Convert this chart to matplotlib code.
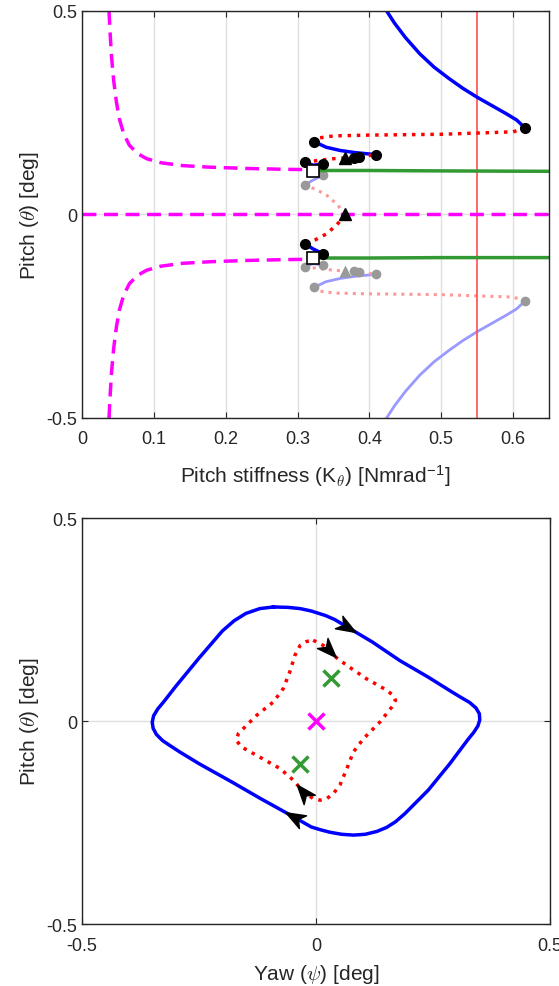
import numpy as np
import matplotlib.pyplot as plt
from matplotlib.markers import MarkerStyle
from matplotlib.path import Path
from matplotlib.transforms import Affine2D

plt.rcParams['font.family'] = ['Liberation Sans', 'DejaVu Sans']
plt.rcParams['mathtext.fontset'] = 'cm'
plt.rcParams['font.size'] = 13

# ---------------- top panel: pitch vs pitch stiffness ----------------
# magenta (unstable) equilibrium branch, upper half (lower half = mirror)
k_mag = [0.0376, 0.039, 0.041, 0.044, 0.048, 0.052, 0.058, 0.066, 0.077, 0.09, 0.11,
         0.14, 0.18, 0.23, 0.28, 0.321]
th_mag = [0.5, 0.45, 0.39, 0.33, 0.275, 0.235, 0.198, 0.17, 0.15, 0.137, 0.127,
          0.12, 0.116, 0.113, 0.111, 0.110]

# green (stable) equilibrium branches
k_green = [0.321, 0.40, 0.50, 0.65]
th_green_up = [0.108, 0.108, 0.107, 0.106]
th_green_lo = [-0.107, -0.107, -0.106, -0.106]

# squares (Hopf points)
k_sq = [0.321, 0.321]
th_sq = [0.108, -0.108]

# periodic orbit amplitude, upper side dark (lower side drawn light, mirrored)
k_blue1 = [0.424, 0.435, 0.45, 0.47, 0.49, 0.51, 0.53, 0.55, 0.57, 0.59, 0.605, 0.617]
th_blue1 = [0.5, 0.47, 0.435, 0.395, 0.362, 0.335, 0.31, 0.288, 0.268, 0.248, 0.232, 0.212]
k_red1 = [0.617, 0.60, 0.55, 0.50, 0.45, 0.40, 0.35, 0.33, 0.323]
th_red1 = [0.212, 0.203, 0.200, 0.197, 0.196, 0.195, 0.193, 0.188, 0.179]
k_blue2 = [0.323, 0.34, 0.36, 0.38, 0.409]
th_blue2 = [0.179, 0.165, 0.157, 0.152, 0.147]
k_red2 = [0.310, 0.33, 0.35, 0.367, 0.387, 0.409]
th_red2 = [0.128, 0.133, 0.137, 0.139, 0.142, 0.147]
k_blue3 = [0.310, 0.322, 0.336]
th_blue3 = [0.128, 0.121, 0.124]
k_dot = [0.617, 0.323, 0.409, 0.310, 0.336, 0.378, 0.386]
th_dot = [0.212, 0.179, 0.147, 0.128, 0.124, 0.139, 0.141]
k_tri = [0.366]
th_tri = [0.139]

# middle branch, lower side dark (upper side drawn light, mirrored)
k_red_m = [0.366, 0.355, 0.34, 0.325, 0.310]
th_red_m = [0.0, -0.025, -0.048, -0.062, -0.072]
k_blue_m = [0.310, 0.322, 0.336]
th_blue_m = [-0.072, -0.085, -0.097]
k_dot_m = [0.310, 0.336]
th_dot_m = [-0.072, -0.097]
k_tri_m = [0.366]
th_tri_m = [0.0]

k_crit = 0.55

top_xticks = [0, 0.1, 0.2, 0.3, 0.4, 0.5, 0.6]
top_xlabels = ['0', '0.1', '0.2', '0.3', '0.4', '0.5', '0.6']
yticks = [-0.5, 0, 0.5]
ylabels = ['-0.5', '0', '0.5']

# ---------------- bottom panel: phase portrait ----------------
psi_blue = [-0.091, -0.06, -0.034, -0.01, 0.020, 0.04, 0.066, 0.12, 0.179, 0.24, 0.29, 0.31,
            0.328, 0.342, 0.349, 0.350, 0.346, 0.337, 0.325, 0.286, 0.24, 0.19, 0.17, 0.151,
            0.13, 0.105, 0.08, 0.055, 0.03, 0.01, -0.01, -0.048, -0.12, -0.177, -0.25, -0.29,
            -0.31, -0.328, -0.341, -0.348, -0.35, -0.347, -0.338, -0.325, -0.30, -0.25, -0.20,
            -0.175, -0.15, -0.12, -0.091]
th_blue = [0.281, 0.280, 0.277, 0.271, 0.260, 0.25, 0.232, 0.195, 0.149, 0.108, 0.072, 0.058,
           0.046, 0.032, 0.018, 0.003, -0.012, -0.028, -0.045, -0.105, -0.17, -0.228, -0.248, -0.262,
           -0.272, -0.279, -0.281, -0.279, -0.274, -0.268, -0.261, -0.236, -0.19, -0.152, -0.105, -0.077,
           -0.062, -0.048, -0.033, -0.018, -0.003, 0.013, 0.03, 0.048, 0.085, 0.155, 0.222,
           0.247, 0.265, 0.277, 0.281]
psi_red = [-0.006, 0.016, 0.027, 0.037, 0.066, 0.108, 0.151, 0.165, 0.170, 0.165, 0.137, 0.101,
           0.080, 0.066, 0.051, 0.037, 0.023, 0.009, -0.006, -0.027, -0.048, -0.077, -0.120,
           -0.159, -0.170, -0.166, -0.127, -0.091, -0.070, -0.056, -0.045, -0.034, -0.020, -0.006]
th_red = [0.199, 0.186, 0.174, 0.162, 0.137, 0.104, 0.076, 0.063, 0.051, 0.039, -0.002, -0.044,
          -0.076, -0.117, -0.158, -0.179, -0.191, -0.195, -0.191, -0.175, -0.146, -0.117, -0.089,
          -0.064, -0.048, -0.031, 0.014, 0.047, 0.080, 0.121, 0.162, 0.186, 0.196, 0.199]
blue_arrows = [6, 31]   # index of loop point where an arrow sits
red_arrows = [2, 19]
psi_eq_green = [0.032, -0.034]
th_eq_green = [0.107, -0.105]
psi_eq_mag = [0.0]
th_eq_mag = [0.0]

fig = plt.figure(figsize=(5.59, 9.87), dpi=100)
ax1 = fig.add_axes([0.1467, 0.5755, 0.8354, 0.4124])
ax2 = fig.add_axes([0.1467, 0.0628, 0.8372, 0.4113])

LB = (0.6, 0.6, 1.0)
LR = (1.0, 0.6, 0.6)
GR = (0.6, 0.6, 0.6)
GREEN = (0.2, 0.6, 0.2)
DASH = (0, (4, 2.2))

neg = lambda a: [-v for v in a]

# light (mirrored) pieces first
ax1.plot(k_blue1, neg(th_blue1), color=LB, lw=2)
ax1.plot(k_red1, neg(th_red1), color=LR, lw=2.2, ls=':')
ax1.plot(k_blue2, neg(th_blue2), color=LB, lw=2)
ax1.plot(k_red2, neg(th_red2), color=LR, lw=2.2, ls=':')
ax1.plot(k_blue3, neg(th_blue3), color=LB, lw=2)
ax1.plot(k_red_m, neg(th_red_m), color=LR, lw=2.2, ls=':')
ax1.plot(k_blue_m, neg(th_blue_m), color=LB, lw=2)
ax1.plot(k_dot, neg(th_dot), 'o', color=GR, ms=7, mec='none')
ax1.plot(k_dot_m, neg(th_dot_m), 'o', color=GR, ms=7, mec='none')
ax1.plot(k_tri, neg(th_tri), '^', color=GR, ms=8, mec='none')

ax1.axvline(k_crit, color=(1, 0.3, 0.3), lw=1.2)

ax1.plot(k_mag, th_mag, color='magenta', lw=2.5, ls=DASH)
ax1.plot(k_mag, neg(th_mag), color='magenta', lw=2.5, ls=DASH)
ax1.axhline(0, color='magenta', lw=2.5, ls=DASH)
ax1.plot(k_green, th_green_up, color=GREEN, lw=2.5)
ax1.plot(k_green, th_green_lo, color=GREEN, lw=2.5)

# dark pieces
ax1.plot(k_blue1, th_blue1, color='blue', lw=2.5)
ax1.plot(k_red1, th_red1, color='red', lw=2.5, ls=':')
ax1.plot(k_blue2, th_blue2, color='blue', lw=2.5)
ax1.plot(k_red2, th_red2, color='red', lw=2.5, ls=':')
ax1.plot(k_blue3, th_blue3, color='blue', lw=2.5)
ax1.plot(k_red_m, th_red_m, color='red', lw=2.5, ls=':')
ax1.plot(k_blue_m, th_blue_m, color='blue', lw=2.5)
ax1.plot(k_dot, th_dot, 'o', color='k', ms=7)
ax1.plot(k_dot_m, th_dot_m, 'o', color='k', ms=7)
ax1.plot(k_tri, th_tri, '^', color='k', ms=8)
ax1.plot(k_tri_m, th_tri_m, '^', color='k', ms=8)
ax1.plot(k_sq, th_sq, 's', color='white', mec='k', mew=1.2, ms=8.5, zorder=5)

ax1.set_xlim(0, 0.65)
ax1.set_ylim(-0.5, 0.5)
ax1.set_xticks(top_xticks)
ax1.set_xticklabels(top_xlabels)
ax1.set_yticks(yticks)
ax1.set_yticklabels(ylabels)
ax1.set_xlabel(r'Pitch stiffness (K$_\theta$) [Nmrad$^{\mathregular{-1}}$]', fontsize=15, labelpad=11)
ax1.set_ylabel(r'Pitch ($\theta$) [deg]', fontsize=15)

# bottom panel
ax2.plot(psi_blue, th_blue, color='blue', lw=2.5)
ax2.plot(psi_red, th_red, color='red', lw=2.5, ls=':')
ax2.plot(psi_eq_green, th_eq_green, 'x', color=GREEN, ms=11, mew=2.5)
ax2.plot(psi_eq_mag, th_eq_mag, 'x', color='magenta', ms=11, mew=2.5)
ax2.set_xlim(-0.5, 0.5)
ax2.set_ylim(-0.5, 0.5)
ax2.set_xticks(yticks)
ax2.set_xticklabels(ylabels)
ax2.set_yticks(yticks)
ax2.set_yticklabels(ylabels)
ax2.set_xlabel(r'Yaw ($\psi$) [deg]', fontsize=15, labelpad=6)
ax2.set_ylabel(r'Pitch ($\theta$) [deg]', fontsize=15)

stealth = Path([(1, 0), (-1, 0.75), (-0.45, 0), (-1, -0.75), (1, 0)],
               [Path.MOVETO, Path.LINETO, Path.LINETO, Path.LINETO, Path.CLOSEPOLY])


def put_arrows(ax, xs, ys, idxs):
    for i in idxs:
        p0 = ax.transData.transform((xs[i], ys[i]))
        p1 = ax.transData.transform((xs[i + 1], ys[i + 1]))
        ang = np.degrees(np.arctan2(p1[1] - p0[1], p1[0] - p0[0]))
        m = MarkerStyle(stealth, transform=Affine2D().rotate_deg(ang))
        ax.plot(xs[i], ys[i], marker=m, color='k', ms=14, zorder=6)


for ax in (ax1, ax2):
    ax.grid(True, color=(0.88, 0.88, 0.88), lw=1)
    ax.set_axisbelow(True)
    ax.tick_params(direction='in', top=True, right=True, length=4, colors=(0.15, 0.15, 0.15),
                   labelcolor=(0.15, 0.15, 0.15))
    ax.tick_params(axis='x', pad=9)
    for s in ax.spines.values():
        s.set_color((0.15, 0.15, 0.15))
        s.set_linewidth(1)
    ax.xaxis.label.set_color((0.15, 0.15, 0.15))
    ax.yaxis.label.set_color((0.15, 0.15, 0.15))

put_arrows(ax2, psi_blue, th_blue, blue_arrows)
put_arrows(ax2, psi_red, th_red, red_arrows)

fig.savefig('out.png', dpi=100)
